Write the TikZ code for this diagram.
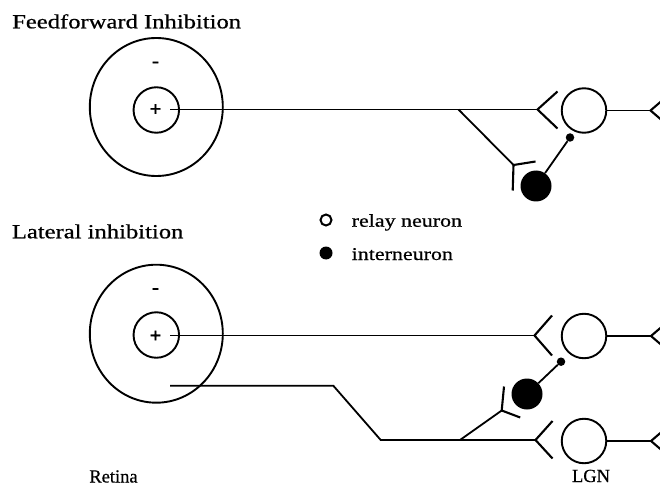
\documentclass[tikz,border=0pt]{standalone}
\usepackage{fontspec}
\setmainfont{Liberation Serif}[FakeBold=0.6]
\usepackage{graphicx}
\usetikzlibrary{shapes.geometric}
\begin{document}
\begin{tikzpicture}[x=1pt,y=-1pt,
  wire/.style={line width=1.8pt},
  synarm/.style={line width=2.1pt},
  field/.style={ellipse, draw, line width=1.9pt, minimum width=133pt, minimum height=138pt, inner sep=0pt},
  centre/.style={circle, draw, line width=1.9pt, minimum size=45.5pt, inner sep=0pt},
  relay/.style={circle, draw, line width=1.9pt, minimum size=44.5pt, inner sep=0pt},
  inter/.style={circle, fill=black, minimum size=31pt, inner sep=0pt},
  knob/.style={circle, fill=black, minimum size=8.5pt, inner sep=0pt},
  sign/.style={inner sep=0pt, font=\fontsize{21}{24}\selectfont\bfseries},
  title/.style={anchor=base west, inner sep=0pt, font=\fontsize{20}{24}\selectfont},
  legend/.style={anchor=base west, inner sep=0pt, font=\fontsize{18}{21}\selectfont},
  caption/.style={anchor=base, inner sep=0pt, font=\fontsize{18.5}{22}\selectfont}]
\useasboundingbox (0,0) rectangle (660,486);
\clip (0,0) rectangle (660,486);

% ---------- feedforward inhibition ----------
\node[title] (t1) at (12,28.3) {\scalebox{1.23}[1]{Feedforward Inhibition}};
\node[field] (rf1) at (156.3,107) {};
\node[centre] (cc1) at (156.3,110) {};
\node[sign] (plus1) at (155.5,110) {+};
\node[sign] (minus1) at (155.5,64.5) {-};

\coordinate (s1) at (170,109.5);
\coordinate (b1) at (458.5,109.5);
\coordinate (v1) at (537.5,109.5);
\coordinate (vb1) at (513.5,165);
\node[relay] (r1) at (584,110.5) {};
\node[inter] (i1) at (536,186) {};
\node[knob] (k1) at (570,137.5) {};
\coordinate (o1) at (650.5,110.5);

\draw[wire] (s1) -- (v1);
\draw[wire] (b1) -- (vb1);
\draw[synarm] (v1) ++(20,-18) -- (v1) -- ++(20,19);
\draw[synarm] (vb1) ++(-0.8,25.5) -- (vb1) -- ++(22,-3.5);
\draw[wire] (i1) -- (k1);
\draw[wire] (r1.east) -- (o1);
\draw[synarm] (o1) ++(14,-12) -- (o1) -- ++(14,12);

% ---------- legend ----------
\node[circle, draw, line width=2pt, minimum size=11pt, inner sep=0pt] (lr) at (326,220) {};
\node[circle, fill=black, minimum size=13pt, inner sep=0pt] (li) at (326,253) {};
\node[legend] (lrt) at (351.5,226.7) {\scalebox{1.22}[1]{relay neuron}};
\node[legend] (lit) at (351.5,260) {\scalebox{1.22}[1]{interneuron}};

% ---------- lateral inhibition ----------
\node[title] (t2) at (11.7,238.3) {\scalebox{1.23}[1]{Lateral inhibition}};
\node[field] (rf2) at (156.3,333.7) {};
\node[centre] (cc2) at (156.3,335) {};
\node[sign] (plus2) at (155.5,336.5) {+};
\node[sign] (minus2) at (155.5,291) {-};

\coordinate (s2) at (170,335.5);
\coordinate (v2) at (534.5,335.5);
\node[relay] (r2) at (584,336) {};
\coordinate (o2) at (651,336);

\coordinate (s3) at (170,385.7);
\coordinate (e3) at (333.3,385.7);
\coordinate (f3) at (380.7,440);
\coordinate (b3) at (460,440);
\coordinate (v3) at (535.5,440);
\coordinate (vb3) at (501.7,410.5);
\node[relay] (r3) at (584,441) {};
\coordinate (o3) at (651,441);

\node[inter] (i2) at (527,394) {};
\node[knob] (k2) at (561,361.7) {};

\draw[wire] (s2) -- (v2);
\draw[synarm] (v2) ++(17.5,-20) -- (v2) -- ++(17.5,20);
\draw[wire] (r2.east) -- (o2);
\draw[synarm] (o2) ++(14,-12) -- (o2) -- ++(14,12);

\draw[wire] (s3) -- (e3) -- (f3) -- (v3);
\draw[synarm] (v3) ++(17,-19) -- (v3) -- ++(17,18.5);
\draw[wire] (r3.east) -- (o3);
\draw[synarm] (o3) ++(14,-12) -- (o3) -- ++(14,12);

\draw[wire] (b3) -- (vb3);
\draw[synarm] (vb3) ++(2.3,-24) -- (vb3) -- ++(18.5,7);
\draw[wire] (i2) -- (k2);

% ---------- region labels ----------
\node[caption] (ret) at (113.5,482.5) {Retina};
\node[caption] (lgn) at (591,482) {LGN};
\end{tikzpicture}
\end{document}
